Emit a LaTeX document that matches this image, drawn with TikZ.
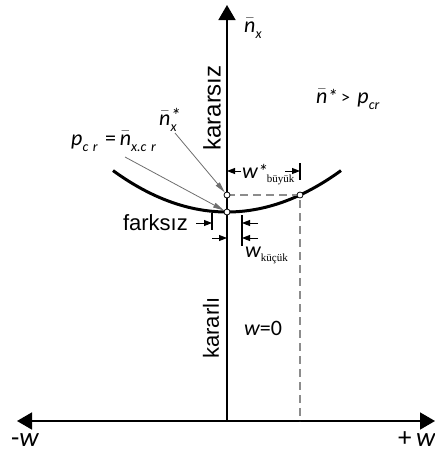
\RequirePackage{fix-cm}
\documentclass[tikz,border=0pt]{standalone}
\usepackage{amsmath}
\usepackage{fontspec}
\setsansfont{Liberation Sans}
\newfontfamily\timesf{Liberation Serif}
\newfontfamily\carl{Carlito}
\usetikzlibrary{arrows.meta}
\definecolor{dashgray}{RGB}{140,140,140}
\definecolor{leadgray}{RGB}{110,110,110}
\tikzset{
  axis/.style={line width=1.6pt},
  axistip/.style={-{Triangle[length=15pt,width=17pt]}},
  curveline/.style={line width=3pt},
  gdash/.style={dashgray, line width=1.6pt, dash pattern=on 8pt off 5pt},
  dotnode/.style={circle, draw, fill=white, inner sep=0pt, minimum size=6pt, line width=0.8pt},
  leader/.style={leadgray, line width=0.8pt, -{Triangle[length=11pt,width=5pt]}},
  dimarrow/.style={line width=0.9pt, -{Triangle[length=8pt,width=6pt]}},
  tick/.style={line width=1.2pt},
  mathlbl/.style={font=\carl\itshape\fontsize{22}{26}\selectfont, inner sep=0pt},
  biglbl/.style={font=\carl\itshape\fontsize{27}{30}\selectfont, inner sep=0pt},
  sanslbl/.style={font=\sffamily\fontsize{22}{26}\selectfont, inner sep=0pt},
}
\newcommand{\nbar}{\ensuremath{\bar{\mbox{n}}}}
\newcommand{\lsub}[1]{\raisebox{-0.3em}{\fontsize{14}{15}\selectfont #1}}
\newcommand{\lstar}{{\fontsize{20}{22}\selectfont *}}
\newcommand{\tsub}[1]{\raisebox{-0.2em}{\timesf\upshape\fontsize{11}{12}\selectfont #1}}
\begin{document}
\begin{tikzpicture}[x=1pt,y=-1pt]
\useasboundingbox (0,0) rectangle (435,456);
% axes
\coordinate (O) at (227,421);
\coordinate (Ytop) at (227,5);
\coordinate (Xl) at (17,421);
\coordinate (Xr) at (435,421);
\draw[axis, axistip] (O) -- (Ytop);
\draw[axis, {Triangle[length=15pt,width=17pt]}-{Triangle[length=15pt,width=17pt]}] (Xl) -- (Xr);
% curve
\draw[curveline] plot[domain=-114:114, samples=80] ({227+\x},{212-0.00319*\x*\x});
% key points
\coordinate (M) at (227,212);
\coordinate (A) at (227,195);
\coordinate (B) at (300,195);
\coordinate (Bbot) at (300,421);
\draw[gdash] (A) -- (B) -- (Bbot);
\node[dotnode] (mdot) at (M) {};
\node[dotnode] (adot) at (A) {};
\node[dotnode] (bdot) at (B) {};
% labels
\node[mathlbl, anchor=base west] (nx) at (244,32) {\nbar\lsub{x}};
\node[mathlbl, anchor=base west] (cond) at (316,103) {\nbar\lstar\,{\upshape\fontsize{18}{20}\selectfont>}\,\,p\lsub{cr}};
\node[mathlbl, anchor=base west] (nxs) at (159,125) {\nbar\makebox[0pt][l]{\lsub{x}}\raisebox{0.12em}{\lstar}};
\node[mathlbl, anchor=base west] (pcr) at (71,145) {p\lsub{c\,\,r}\,\,{\upshape=}\,\nbar\lsub{x.c\,\,r}};
\node[sanslbl, font=\sffamily\fontsize{24}{28}\selectfont, rotate=90] (unst) at (212,108) {kararsız};
\node[sanslbl, rotate=90] (st) at (211,328) {kararlı};
\node[sanslbl, anchor=base east] (fark) at (188,230) {farksız};
\node[mathlbl, anchor=base west] (w0) at (244,335) {w{\upshape =0}};
\node[biglbl, anchor=base west] (wm) at (11,446) {{\upshape -}w};
\node[biglbl, anchor=base west] (wp) at (398,446) {{\upshape +}\,w};
% leaders
\coordinate (L1) at (175,133);
\coordinate (L2) at (125,157);
\draw[leader] (L1) -- (adot);
\draw[leader] (L2) -- (mdot);
% w* buyuk dimension
\coordinate (Ab) at (227,171);
\coordinate (Ab2) at (241,171);
\coordinate (Bb) at (300,171);
\coordinate (Bb2) at (285,171);
\coordinate (Bt1) at (300,163);
\coordinate (Bt2) at (300,180);
\draw[dimarrow] (Ab2) -- (Ab);
\draw[dimarrow] (Bb2) -- (Bb);
\draw[tick] (Bt1) -- (Bt2);
\node[mathlbl, anchor=base west] (wstar) at (242,178) {w\lstar\kern-1pt\tsub{büyük}};
% farksiz / kucuk dimension
\coordinate (T1a) at (212,213);
\coordinate (T1b) at (212,230);
\coordinate (T2a) at (242,215);
\coordinate (T2b) at (242,246);
\draw[tick] (T1a) -- (T1b);
\draw[tick] (T2a) -- (T2b);
\coordinate (P1s) at (196,223);
\coordinate (P1e) at (212,223);
\coordinate (P2s) at (212,238);
\coordinate (P2e) at (227,238);
\coordinate (P3s) at (258,223);
\coordinate (P3e) at (242,223);
\coordinate (P4s) at (258,238);
\coordinate (P4e) at (242,238);
\draw[dimarrow] (P1s) -- (P1e);
\draw[dimarrow] (P2s) -- (P2e);
\draw[dimarrow] (P3s) -- (P3e);
\draw[dimarrow] (P4s) -- (P4e);
\node[mathlbl, anchor=base west] (wk) at (245,257) {w\tsub{küçük}};
\end{tikzpicture}
\end{document}
